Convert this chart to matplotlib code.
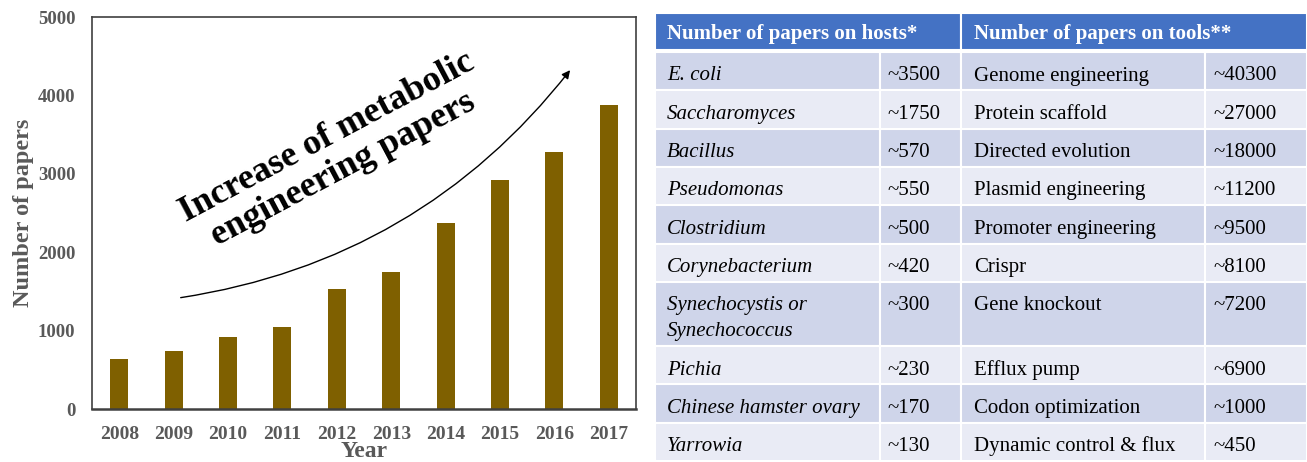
import matplotlib
matplotlib.use("Agg")
import matplotlib.pyplot as plt
from matplotlib.patches import Rectangle

plt.rcParams['font.family'] = ['Liberation Serif', 'DejaVu Serif']

# papers per year
years = ['2008', '2009', '2010', '2011', '2012', '2013', '2014', '2015', '2016', '2017']
papers = [635, 740, 920, 1045, 1525, 1745, 2370, 2925, 3280, 3875]

# table contents
hosts = ['E. coli', 'Saccharomyces', 'Bacillus', 'Pseudomonas', 'Clostridium',
         'Corynebacterium', 'Synechocystis or\nSynechococcus', 'Pichia',
         'Chinese hamster ovary', 'Yarrowia']
host_counts = ['~3500', '~1750', '~570', '~550', '~500', '~420', '~300', '~230', '~170', '~130']
tools = ['Genome engineering', 'Protein scaffold', 'Directed evolution', 'Plasmid engineering',
         'Promoter engineering', 'Crispr', 'Gene knockout', 'Efflux pump',
         'Codon optimization', 'Dynamic control & flux']
tool_counts = ['~40300', '~27000', '~18000', '~11200', '~9500', '~8100', '~7200', '~6900',
               '~1000', '~450']
headers = ['Number of papers on hosts*', 'Number of papers on tools**']

W, H = 1307, 462
fig = plt.figure(figsize=(W / 100, H / 100), dpi=100)

# ---------------- bar chart ----------------
ax = fig.add_axes([92 / W, 1 - 409 / H, 544 / W, 392 / H])
ax.bar(range(len(years)), papers, width=0.33, color='#7F6000')
ax.set_xlim(-0.5, len(years) - 0.5)
ax.set_ylim(0, 5000)
ax.set_yticks(range(0, 5001, 1000))
ax.set_xticks(range(len(years)))
ax.set_xticklabels(years)
grey = '#595959'
ax.tick_params(length=0, labelcolor=grey)
ax.tick_params(axis='y', labelsize=13.5, pad=12)
ax.tick_params(axis='x', labelsize=14, pad=12)
for lab in ax.get_xticklabels() + ax.get_yticklabels():
    lab.set_fontweight('bold')
for s in ax.spines.values():
    s.set_color('#404040')
    s.set_linewidth(1.2)
ax.spines['bottom'].set_linewidth(1.8)
ax.set_xlabel('Year', fontsize=17, fontweight='bold', color=grey, labelpad=-1.5)
ax.set_ylabel('Number of papers', fontsize=17.5, fontweight='bold', color=grey, labelpad=3)

ax.annotate('', xy=(0.882, 0.870), xytext=(0.158, 0.283),
            xycoords='axes fraction', textcoords='axes fraction',
            arrowprops=dict(arrowstyle='-|>', color='black', lw=1.0,
                            mutation_scale=12, connectionstyle='arc3,rad=0.2'))
ax.text(0.447, 0.652, 'Increase of metabolic\nengineering papers', transform=ax.transAxes,
        rotation=28, ha='center', va='center', rotation_mode='anchor',
        fontsize=26, fontweight='bold', linespacing=1.1)

# ---------------- table ----------------
tx0, ty0 = 655, 13
tw, th = W - tx0, 461 - ty0
tab = fig.add_axes([tx0 / W, 1 - (ty0 + th) / H, tw / W, th / H])
tab.set_xlim(0, tw)
tab.set_ylim(th, 0)
tab.axis('off')

cols = [0, 225, 306, 550, tw]
pads = [12, 7, 13, 8]
head_h = 37
gap = 2
row_h = 38.3
line_step = 26
dark, light = '#CFD5EA', '#E9EBF5'

# header
for j, (c0, c1) in enumerate([(cols[0], cols[2]), (cols[2], cols[4])]):
    tab.add_patch(Rectangle((c0, 0), c1 - c0, head_h, facecolor='#4472C4',
                            edgecolor='white', lw=1.5))
    tab.text(c0 + pads[2 * j], 26.5, headers[j], color='white', fontsize=15,
             fontweight='bold', ha='left', va='baseline')

y = head_h + gap
for i in range(len(hosts)):
    nlines = hosts[i].count('\n') + 1
    h = row_h + line_step * (nlines - 1)
    fc = dark if i % 2 == 0 else light
    cells = [hosts[i], host_counts[i], tools[i], tool_counts[i]]
    for k in range(4):
        tab.add_patch(Rectangle((cols[k], y), cols[k + 1] - cols[k], h, facecolor=fc,
                                edgecolor='white', lw=1.5))
        # one baseline per line of text, first line near the cell top
        for n, part in enumerate(cells[k].split('\n')):
            tab.text(cols[k] + pads[k], y + 28.5 + n * line_step, part, fontsize=15,
                     ha='left', va='baseline', style='italic' if k == 0 else 'normal')
    y += h

fig.savefig('out.png', dpi=100)
